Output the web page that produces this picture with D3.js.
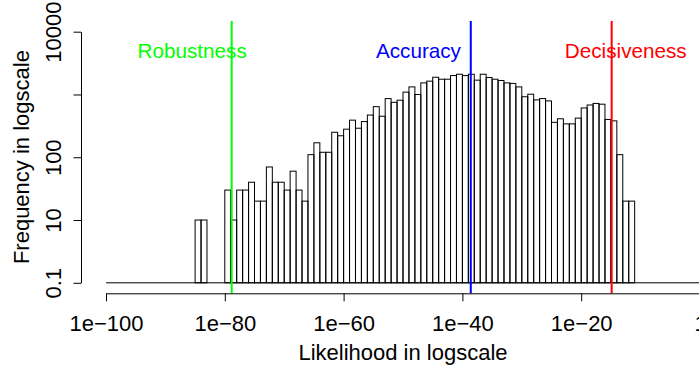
<!DOCTYPE html>
<html>
<head>
<meta charset="utf-8">
<script src="https://cdn.jsdelivr.net/npm/d3@7"></script>
<style>
  html, body { margin: 0; padding: 0; background: #fff; }
  svg { display: block; font-family: "Liberation Sans", Arial, sans-serif; }
</style>
</head>
<body>
<svg id="chart" width="699" height="370"></svg>
<script>
// Histogram bins: lower edge exponent (log10 of likelihood) and count per bin
const binExponents = [
  -85, -84, -83, -82, -81, -80, -79, -78, -77, -76, -75, -74, -73, -72, -71, -70,
  -69, -68, -67, -66, -65, -64, -63, -62, -61, -60, -59, -58, -57, -56, -55, -54,
  -53, -52, -51, -50, -49, -48, -47, -46, -45, -44, -43, -42, -41, -40, -39, -38,
  -37, -36, -35, -34, -33, -32, -31, -30, -29, -28, -27, -26, -25, -24, -23, -22,
  -21, -20, -19, -18, -17, -16, -15, -14, -13, -12
];
const binCounts = [
  10, 10, 0, 0, 0, 30, 10, 30, 30, 40, 20, 20, 70, 40, 40, 30,
  60, 30, 20, 110, 170, 120, 120, 250, 220, 280, 390, 290, 370, 470, 640, 450,
  860, 750, 810, 1090, 1320, 1000, 1530, 1630, 1880, 1750, 1750, 2000, 2100, 2000, 2100, 1690,
  2100, 1860, 1750, 1670, 1530, 1500, 1320, 920, 1010, 820, 860, 790, 360, 410, 340, 340,
  420, 610, 680, 720, 700, 400, 380, 110, 20, 20
];

// Axis ticks
const xTickExponents = [-100, -80, -60, -40, -20, 0];
const xTickLabels = ["1e\u2212100", "1e\u221280", "1e\u221260", "1e\u221240", "1e\u221220", "1"];
const yTickValues = [1, 10, 100, 1000, 10000];
const yTickLabels = ["0.1", "10", "100", "", "10000"];

// Reference lines and their captions
const markerNames = ["Robustness", "Accuracy", "Decisiveness"];
const markerExponents = [-78.84, -38.59, -14.87];
const markerColors = ["#00ff00", "#0000ff", "#ff0000"];
const labelExponents = [-85.5, -47.4, -12.5];
const labelLevel = 5000;

const svg = d3.select("#chart");
svg.append("rect").attr("width", 699).attr("height", 370).attr("fill", "#fff");

const plot = { left: 106, right: 700, top: 20.9, bottom: 293.3 };

const x = d3.scaleLog().domain([1e-100, 1]).range([plot.left, plot.right]);
const y = d3.scaleLog().domain([1, 10000]).range([282.8, 31.7]);

// Baseline under the bars
svg.append("line")
  .attr("x1", plot.left).attr("x2", plot.right)
  .attr("y1", y(1)).attr("y2", y(1))
  .attr("stroke", "#000").attr("stroke-width", 1);

// Bars
const bins = binExponents.map((e, i) => ({ lo: Math.pow(10, e), hi: Math.pow(10, e + 1), count: binCounts[i] }));
svg.append("g").selectAll("rect")
  .data(bins.filter(d => d.count > 0))
  .join("rect")
  .attr("x", d => x(d.lo))
  .attr("width", d => x(d.hi) - x(d.lo))
  .attr("y", d => y(Math.max(1, d.count)))
  .attr("height", d => y(1) - y(Math.max(1, d.count)))
  .attr("fill", "none")
  .attr("stroke", "#000")
  .attr("stroke-width", 1);

// Vertical reference lines
svg.append("g").selectAll("line")
  .data(markerExponents)
  .join("line")
  .attr("x1", d => x(Math.pow(10, d)))
  .attr("x2", d => x(Math.pow(10, d)))
  .attr("y1", plot.top).attr("y2", plot.bottom)
  .attr("stroke", (d, i) => markerColors[i])
  .attr("stroke-width", 2);

// Captions
svg.append("g").selectAll("text")
  .data(markerNames)
  .join("text")
  .attr("x", (d, i) => x(Math.pow(10, labelExponents[i])))
  .attr("y", y(labelLevel))
  .attr("dy", "0.36em")
  .attr("text-anchor", "middle")
  .attr("font-size", "20.7px")
  .attr("fill", (d, i) => markerColors[i])
  .text(d => d);

// X axis
const xAxis = d3.axisBottom(x)
  .tickValues(xTickExponents.map(e => Math.pow(10, e)))
  .tickFormat((d, i) => xTickLabels[i])
  .tickSizeInner(8)
  .tickSizeOuter(0);
const gx = svg.append("g").attr("transform", `translate(0,${plot.bottom})`).call(xAxis);
gx.selectAll("text")
  .attr("y", 37.7).attr("dy", 0)
  .attr("font-size", "22px")
  .attr("fill", "#000")
  .attr("font-family", "Liberation Sans, Arial, sans-serif");
gx.select(".domain").attr("stroke", "#000");

// Y axis
const yAxis = d3.axisLeft(y)
  .tickValues(yTickValues)
  .tickFormat((d, i) => yTickLabels[i])
  .tickSizeInner(7.5)
  .tickSizeOuter(0);
const gy = svg.append("g").attr("transform", "translate(81,0)").call(yAxis);
gy.selectAll("text")
  .attr("transform", "rotate(-90)")
  .attr("x", 0).attr("y", -20).attr("dy", 0)
  .attr("text-anchor", "middle")
  .attr("font-size", "22px")
  .attr("fill", "#000")
  .attr("font-family", "Liberation Sans, Arial, sans-serif");

// Axis titles
svg.append("text")
  .attr("x", (plot.left + plot.right) / 2)
  .attr("y", 360)
  .attr("text-anchor", "middle")
  .attr("font-size", "22px")
  .text("Likelihood in logscale");

svg.append("text")
  .attr("transform", `translate(29,${(plot.top + plot.bottom) / 2}) rotate(-90)`)
  .attr("text-anchor", "middle")
  .attr("font-size", "22px")
  .text("Frequency in logscale");
</script>
</body>
</html>
